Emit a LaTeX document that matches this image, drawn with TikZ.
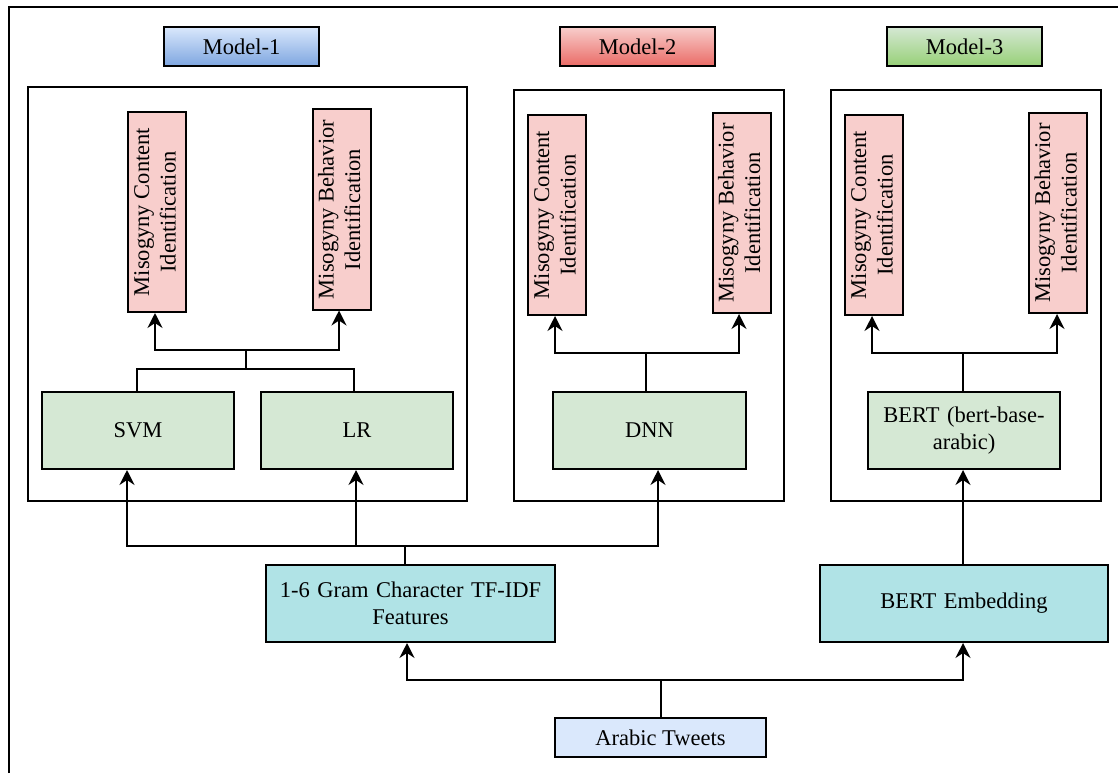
\documentclass[tikz,border=0pt]{standalone}
\usepackage{fontspec}
\setmainfont{Liberation Serif}[Ligatures=TeX]
\newfontfamily\diagfont{Liberation Serif}
\usetikzlibrary{arrows.meta,calc}
\definecolor{pinkc}{HTML}{F8CECC}
\definecolor{greenc}{HTML}{D5E8D4}
\definecolor{tealc}{HTML}{B0E3E6}
\definecolor{bluec}{HTML}{DAE8FC}
\definecolor{bluedark}{HTML}{7EA6E0}
\definecolor{reddark}{HTML}{EA6B66}
\definecolor{greendark}{HTML}{97D077}
\tikzset{
  base/.style={draw=black, line width=2pt, inner sep=2pt, align=center,
    font=\diagfont\fontsize{22.5}{26.5}\selectfont},
  modelbox/.style={base, minimum width=155pt, minimum height=39pt},
  panel/.style={draw=black, line width=1.8pt},
  pinkbox/.style={base, fill=pinkc, minimum width=58pt, minimum height=200pt},
  algbox/.style={base, fill=greenc, minimum width=192pt, minimum height=77pt, text width=180pt},
  featbox/.style={base, fill=tealc, minimum width=288pt, minimum height=77pt, text width=280pt},
  conn/.style={line width=2pt},
  arr/.style={conn, -{Stealth[length=15pt,width=15pt,inset=5pt]}},
}
\newcommand{\vlabel}[2]{\rotatebox{90}{\begin{tabular}{@{}c@{}}#1\\#2\end{tabular}}}
\begin{document}
\begin{tikzpicture}[x=1pt,y=-1pt]
\useasboundingbox (0,0) rectangle (1118,773);
% outer frame
\draw[line width=2pt] (9,773) -- (9,7) -- (1118,7);

% model titles
\node[modelbox, top color=bluec, bottom color=bluedark] (m1) at (241.5,46.5) {Model-1};
\node[modelbox, top color=pinkc, bottom color=reddark] (m2) at (637.5,46.5) {Model-2};
\node[modelbox, top color=greenc, bottom color=greendark] (m3) at (964.5,46.5) {Model-3};

% panels
\node[panel, minimum width=439pt, minimum height=414pt, inner sep=0pt] (p1) at (247.5,294) {};
\node[panel, minimum width=270pt, minimum height=411pt, inner sep=0pt] (p2) at (649,295.5) {};
\node[panel, minimum width=270pt, minimum height=411pt, inner sep=0pt] (p3) at (966,295.5) {};

% output boxes
\node[pinkbox] (c1) at (157,212) {\vlabel{Misogyny Content}{Identification}};
\node[pinkbox] (b1) at (341.5,209.5) {\vlabel{Misogyny Behavior}{Identification}};
\node[pinkbox] (c2) at (557,215) {\vlabel{Misogyny Content}{Identification}};
\node[pinkbox] (b2) at (741.5,213) {\vlabel{Misogyny Behavior}{Identification}};
\node[pinkbox] (c3) at (874,215) {\vlabel{Misogyny Content}{Identification}};
\node[pinkbox] (b3) at (1058,213) {\vlabel{Misogyny Behavior}{Identification}};

% algorithm boxes
\node[algbox] (svm) at (138,430.5) {SVM};
\node[algbox] (lr) at (357,430.5) {LR};
\node[algbox, minimum width=193pt] (dnn) at (649.5,430.5) {DNN};
\node[algbox] (bert) at (964,430.5) {BERT (bert-base-\\arabic)};

% feature boxes
\node[featbox, minimum width=289pt] (tf) at (410.5,603.5) {1-6 Gram Character TF-IDF\\Features};
\node[featbox] (emb) at (964,603.5) {BERT Embedding};
\node[base, fill=bluec, minimum width=211pt, minimum height=39pt] (tw) at (660.5,737.5) {Arabic Tweets};

% panel 1 connectors
\coordinate (j1) at (246,369);
\coordinate (k1) at (246,350);
\draw[conn] ([xshift=-1pt]svm.north) |- (j1) -| ([xshift=-3pt]lr.north);
\draw[conn] (j1) -- (k1);
\draw[arr] (k1) -| ([xshift=-2pt]c1.south);
\draw[arr] (k1) -| ([xshift=-2.5pt]b1.south);

% panel 2 connectors
\coordinate (k2) at (646,353);
\draw[conn] ([xshift=-3.5pt]dnn.north) -- (k2);
\draw[arr] (k2) -| ([xshift=-2pt]c2.south);
\draw[arr] (k2) -| ([xshift=-2.5pt]b2.south);

% panel 3 connectors
\coordinate (k3) at (963,353);
\draw[conn] ([xshift=-1pt]bert.north) -- (k3);
\draw[arr] (k3) -| ([xshift=-2pt]c3.south);
\draw[arr] (k3) -| ([xshift=-1pt]b3.south);

% features to models
\coordinate (h1) at (405,546);
\draw[conn] ([xshift=-5.5pt]tf.north) -- (h1);
\draw[arr] (h1) -| ([xshift=-11pt]svm.south);
\draw[arr] (h1) -| ([xshift=-1pt]lr.south);
\draw[arr] (h1) -| ([xshift=8.5pt]dnn.south);
\draw[arr] ([xshift=-1pt]emb.north) -- ([xshift=-1pt]bert.south);

% tweets to features
\coordinate (h2) at (660.5,680);
\draw[conn] (tw.north) -- (h2);
\draw[arr] (h2) -| ([xshift=-3.5pt]tf.south);
\draw[arr] (h2) -| ([xshift=-1pt]emb.south);
\end{tikzpicture}
\end{document}
